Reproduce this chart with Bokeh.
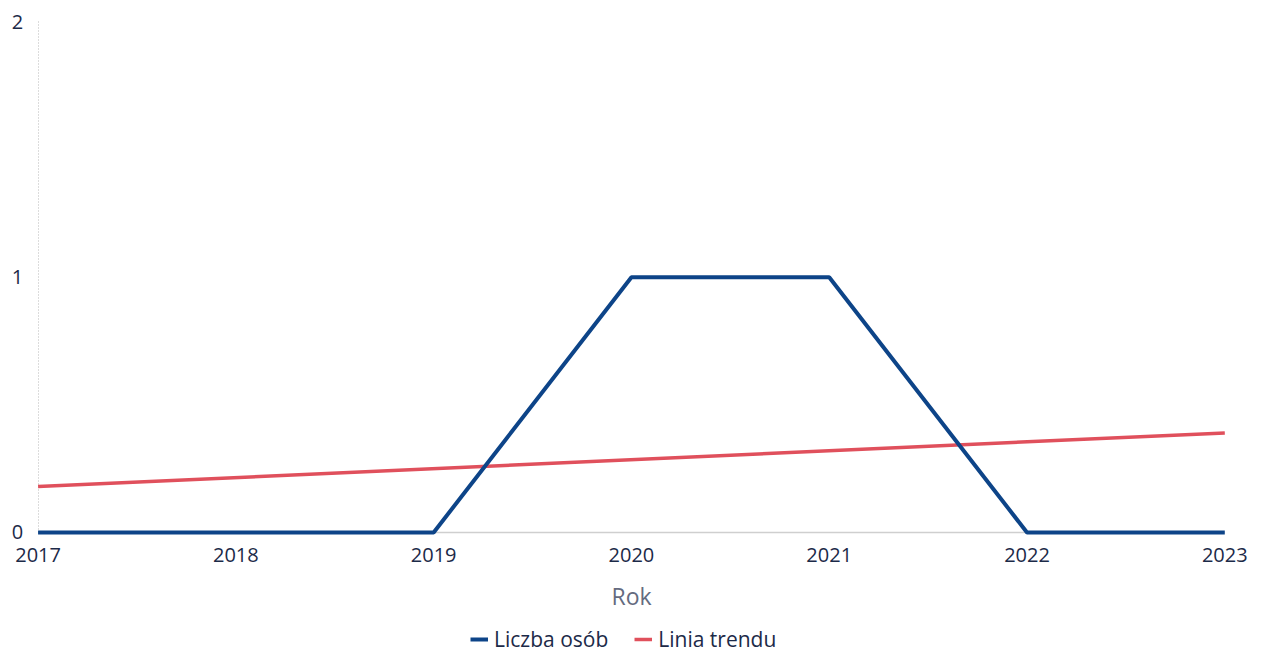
from bokeh.plotting import figure
from bokeh.models import Range1d, FixedTicker, Legend, LegendItem
from bokeh.embed import file_html
from bokeh.resources import INLINE

years = [2017, 2018, 2019, 2020, 2021, 2022, 2023]
liczba_osob = [0, 0, 0, 1, 1, 0, 0]
trend_years = [2017, 2023]
trend_values = [0.18, 0.39]
y_ticks = [0, 1, 2]

FONT = "Open Sans"
TXT = "#1c2a48"

# The frame fills the whole figure; the axes are pinned at 2017 / 0 so that
# their labels and the legend are drawn inside it.
p = figure(width=1250, height=653, output_backend="svg", toolbar_location=None,
           x_range=Range1d(2016.81, 2023.13), y_range=Range1d(-0.474, 2.084),
           min_border_left=0, min_border_right=0, min_border_top=0, min_border_bottom=0)
p.outline_line_color = None
p.background_fill_color = "white"
p.border_fill_color = "white"
p.xgrid.grid_line_color = None
p.ygrid.grid_line_color = None

r_trend = p.line(trend_years, trend_values, line_color="#e0505c", line_width=3.5)
r_main = p.line(years, liczba_osob, line_color="#0d4488", line_width=4)

xa = p.xaxis[0]
xa.fixed_location = 0
xa.bounds = (2017, 2023)
xa.level = "underlay"
xa.ticker = FixedTicker(ticks=years)
xa.axis_line_color = "#cfcfcf"
xa.axis_line_width = 1.5
xa.major_tick_line_color = None
xa.minor_tick_line_color = None
xa.major_label_text_font = FONT
xa.major_label_text_font_size = "20px"
xa.major_label_text_color = TXT
xa.major_label_standoff = 10
xa.axis_label = "Rok"
xa.axis_label_text_font = FONT
xa.axis_label_text_font_style = "normal"
xa.axis_label_text_font_size = "23px"
xa.axis_label_text_color = "#646b80"
xa.axis_label_standoff = 14

ya = p.yaxis[0]
ya.fixed_location = 2017
ya.bounds = (0, 2)
ya.level = "underlay"
ya.ticker = FixedTicker(ticks=y_ticks)
ya.axis_line_color = "#b8b8b8"
ya.axis_line_dash = "1 2"
ya.axis_line_width = 1
ya.major_tick_line_color = None
ya.minor_tick_line_color = None
ya.major_label_text_font = FONT
ya.major_label_text_font_size = "20px"
ya.major_label_text_color = TXT
ya.major_label_standoff = 9

legend = Legend(items=[LegendItem(label="Liczba osób", renderers=[r_main]),
                       LegendItem(label="Linia trendu", renderers=[r_trend])],
                orientation="horizontal", location=(470, 0),
                label_text_font=FONT, label_text_font_size="21px", label_text_color=TXT,
                glyph_width=18, glyph_height=16, spacing=26, label_standoff=6,
                label_height=18,
                border_line_color=None, background_fill_alpha=0, padding=2, margin=0)
p.add_layout(legend, "center")

open("out.html", "w").write(file_html(p, INLINE))
